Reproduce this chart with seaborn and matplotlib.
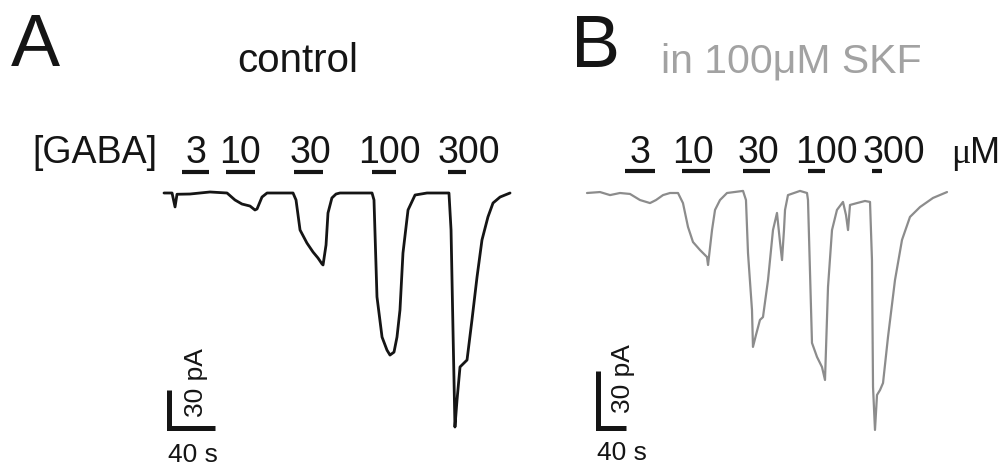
import matplotlib
matplotlib.use("Agg")
import matplotlib.pyplot as plt
import seaborn as sns

# ---------------- data ----------------
# Panel A: control recording, time (s) and current (pA, inward = negative)
A_T = [0, 7, 9.6, 11.3, 22.6, 40, 54.8, 61.7, 67.8, 74.8, 79.1, 80.9, 85.2, 89.6,
       100.9, 112.2, 114.8, 118.3, 124.3, 129.6, 133.9, 137.4, 138.3, 140.9, 142.6,
       146, 149.6, 153, 180.9, 182.6, 185.2, 189.6, 193.9, 196.5, 200, 202.6, 205.2,
       207.8, 212.2, 218.3, 228.7, 247.8, 249.6, 251.3, 253, 254.8, 257.4, 263.5,
       267.8, 272.2, 276.5, 281.7, 286.1, 292.2, 296.5, 300.9]
A_I = [0, 0, -11, -1, -0.8, 0.8, 0, -5.5, -8.7, -10.3, -13.4, -12.6, -3.2, 0,
       0, 0, -5.5, -29.2, -39.5, -46.6, -51.3, -56, -56.8, -41, -15.8,
       -3.9, -0.8, 0, 0, -5.5, -82, -113.7, -124, -127.9, -125.6, -113.7, -92.3,
       -47.4, -13.4, -1.6, 0, 0, -29.2, -108, -184.7, -163.4, -137.3, -131.8,
       -100.2, -66.3, -37.1, -18.9, -7.9, -3.2, -1.6, 0]

# Panel B: in 100 uM SKF
B_T = [0, 18.6, 32.9, 47.1, 61.4, 75.7, 90, 98.6, 108.6, 118.6, 130, 137.1, 144.3,
       151.4, 161.4, 171.4, 172.9, 178.6, 182.9, 190, 200, 222.9, 227.1, 230, 235.7,
       237.1, 241.4, 247.1, 251.4, 258.6, 265.7, 271.4, 275.7, 278.6, 281.4, 282.9,
       287.1, 304.3, 314.3, 315.7, 321.4, 328.6, 335.7, 340, 344.3, 350, 357.1,
       365.7, 370, 372.9, 375.7, 385.7, 397.1, 404.3, 407.1, 408.6, 411.4, 414.3,
       418.6, 422.9, 430, 440, 450, 461.4, 475.7, 494.3, 514.3]
B_I = [0, 0.5, -1.1, 0, -0.5, -3.7, -5.3, -3.7, -1.1, 0, 0, -5.3, -17.9,
       -25.8, -30, -33.7, -37.9, -19.5, -8.9, -3.7, 0, 1.1, -3.7, -31.6, -61.6,
       -81, -74.7, -66.8, -65.3, -45.8, -19.5, -10.5, -25.8, -35.3, -19.5, -8.9,
       -1.1, 1.1, 0, -3.7, -78.9, -86.3, -91.6, -98.4, -49.5, -19.5, -8.9,
       -4.7, -11.6, -19.5, -6.3, -5.3, -4.2, -4.7, -35.3, -102, -124.7, -106.3,
       -103.7, -100, -75.8, -45.8, -24.7, -12.6, -7.4, -2.6, 0.5]

CONC_LABELS = ["3", "10", "30", "100", "300"]
A_BAR_START = [15.7, 53.9, 113.0, 180.9, 247.0]
A_BAR_END = [39.1, 79.1, 138.3, 201.7, 262.6]
B_BAR_START = [54.3, 135.7, 222.9, 315.7, 407.0]
B_BAR_END = [97.1, 175.7, 261.4, 340.0, 421.0]

SCALE_S = 40   # s
SCALE_PA = 30  # pA

# ---------------- styling / layout ----------------
sns.set_theme(style="white")
plt.rcParams["font.family"] = ["Liberation Sans", "DejaVu Sans"]

W, H = 1008, 468
fig = plt.figure(figsize=(W / 100, H / 100), dpi=100)
fig.patch.set_facecolor("white")

INK = "#151515"
GRAY_TRACE = "#8c8c8c"
GRAY_TEXT = "#a2a2a2"


def make_axes(box, origin, sx, sy):
    x0, y0, x1, y1 = box
    ox, oy = origin
    ax = fig.add_axes([x0 / W, 1 - y1 / H, (x1 - x0) / W, (y1 - y0) / H])
    ax.set_xlim((x0 - ox) / sx, (x1 - ox) / sx)
    ax.set_ylim((oy - y1) / sy, (oy - y0) / sy)
    ax.axis("off")
    ax.patch.set_alpha(0)
    return ax


def panel(ax, t, i, color, lw, starts, ends, origin, sx, sy, bar_py, corner_px):
    ox, oy = origin
    sns.lineplot(x=t, y=i, ax=ax, color=color, linewidth=lw, sort=False,
                 estimator=None, legend=False)
    bar_level = (oy - bar_py) / sy
    for s, e in zip(starts, ends):
        ax.plot([s, e], [bar_level, bar_level], color=INK, lw=3.0,
                solid_capstyle="butt")
    cx = (corner_px[0] - ox) / sx
    cy = (oy - corner_px[1]) / sy
    ax.plot([cx, cx, cx + SCALE_S], [cy + SCALE_PA, cy, cy], color=INK, lw=3.6,
            solid_joinstyle="miter", solid_capstyle="butt")


A_ORIGIN, A_SX, A_SY = (164, 193), 1.15, 1.267
B_ORIGIN, B_SX, B_SY = (587, 193), 0.70, 1.9

axA = make_axes((100, 90, 545, 468), A_ORIGIN, A_SX, A_SY)
axB = make_axes((560, 90, 1000, 468), B_ORIGIN, B_SX, B_SY)

panel(axA, A_T, A_I, INK, 2.0, A_BAR_START, A_BAR_END, A_ORIGIN, A_SX, A_SY,
      171.5, (169, 428))
panel(axB, B_T, B_I, GRAY_TRACE, 1.6, B_BAR_START, B_BAR_END, B_ORIGIN, B_SX, B_SY,
      171, (598, 428))


def ftext(x, y, s, **kw):
    fig.text(x / W, 1 - y / H, s, **kw)


# panel letters and titles
ftext(11, 66, "A", fontsize=53, color=INK, ha="left", va="baseline")
ftext(571, 67, "B", fontsize=53, color=INK, ha="left", va="baseline")
ftext(237, 72, "control", fontsize=29, color=INK, ha="left", va="baseline")
ftext(661, 72, "in 100\u03bcM SKF", fontsize=29.5, color=GRAY_TEXT, ha="left",
      va="baseline")

# concentration labels
ftext(32, 163, "[GABA]", fontsize=27, color=INK, ha="left", va="baseline")
A_LABEL_PX = [196, 240, 310, 389, 469]
B_LABEL_PX = [640, 693, 758, 826, 894]
for lab, xp in zip(CONC_LABELS, A_LABEL_PX):
    ftext(xp, 163, lab, fontsize=27, color=INK, ha="center", va="baseline")
for lab, xp in zip(CONC_LABELS, B_LABEL_PX):
    ftext(xp, 163, lab, fontsize=27, color=INK, ha="center", va="baseline")
ftext(951, 163, "\u03bc", fontsize=26, color=INK, ha="left", va="baseline",
      family=["Liberation Serif", "DejaVu Serif"])
ftext(970, 163, "M", fontsize=26, color=INK, ha="left", va="baseline")

# scale bar labels
ftext(196, 383, "30 pA", fontsize=19, color=INK, ha="center", va="center",
      rotation=90)
ftext(193, 455, "40 s", fontsize=19, color=INK, ha="center", va="center")
ftext(623, 379, "30 pA", fontsize=19, color=INK, ha="center", va="center",
      rotation=90)
ftext(622, 453, "40 s", fontsize=19, color=INK, ha="center", va="center")

fig.savefig("out.png", dpi=100, facecolor="white")
